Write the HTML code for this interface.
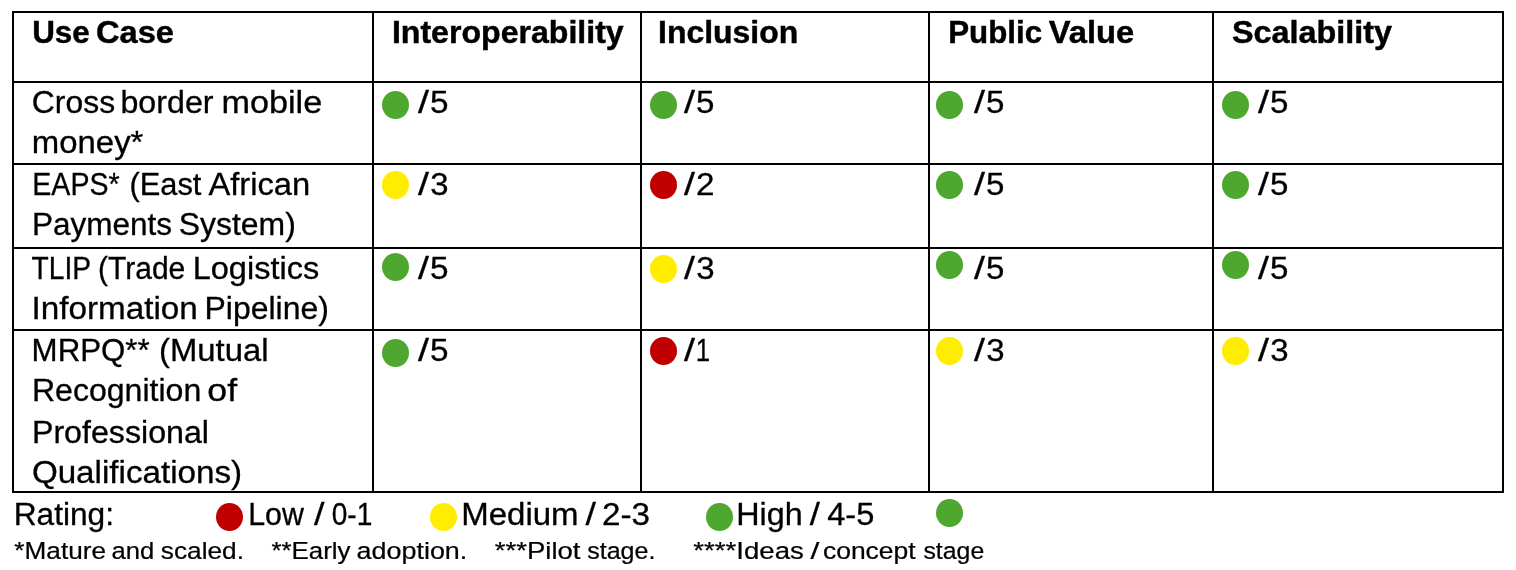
<!DOCTYPE html>
<html lang="en">
<head>
<meta charset="utf-8">
<title>Use case rating table</title>
<style>
html,body{margin:0;padding:0;background:#fff;}
body{width:1504px;height:559px;padding:11px 0 0 12px;position:relative;overflow:hidden;
  font-family:"Liberation Sans",sans-serif;color:#000;}
table{border-collapse:separate;border-spacing:0;
  table-layout:fixed;border-top:2px solid #000;border-left:2px solid #000;}
td,th{box-sizing:border-box;padding:0;border-right:2px solid #000;border-bottom:2px solid #000;
  font-weight:normal;text-align:left;vertical-align:top;}
.t{position:absolute;white-space:pre;line-height:1;font-size:31px;transform-origin:0 0;display:block;-webkit-text-stroke:0.3px #000;}
.b{font-weight:bold;font-size:31.3px;-webkit-text-stroke-width:0.45px;}
.f{font-size:23.25px;-webkit-text-stroke-width:0.22px;}
.d{position:absolute;display:block;border-radius:50%;}
p{margin:0;}
</style>
</head>
<body>
<table>
<colgroup><col style="width:360px"><col style="width:268px"><col style="width:288px"><col style="width:284px"><col style="width:290px"></colgroup>

<tr style="height:70px">
<th><span class="t b" style="left:32px;top:17px;transform:translateX(0.14px) scaleX(1.0032)">Use </span><span class="t b" style="left:95px;top:17px;transform:translateX(0.96px) scaleX(1.0419)">Case</span></th>
<th><span class="t b" style="left:391px;top:17px;transform:translateX(0.90px) scaleX(1.0254)">Interoperability</span></th>
<th><span class="t b" style="left:658px;top:17px;transform:translateX(0.04px) scaleX(1.0200)">Inclusion</span></th>
<th><span class="t b" style="left:948px;top:17px;transform:translateX(0.17px) scaleX(0.9995)">Public </span><span class="t b" style="left:1048px;top:17px;transform:translateX(0.81px) scaleX(1.0445)">Value</span></th>
<th><span class="t b" style="left:1232px;top:17px;transform:translateX(0.02px) scaleX(1.0330)">Scalability</span></th>
</tr>
<tr style="height:82px">
<td><span class="t" style="left:31px;top:87px;transform:translateX(0.84px) scaleX(1.0286)">Cross </span><span class="t" style="left:120px;top:87px;transform:translateX(0.48px) scaleX(1.0379)">border </span><span class="t" style="left:221px;top:87px;transform:translateX(0.45px) scaleX(1.1030)">mobile</span><span class="t" style="left:31px;top:127px;transform:translateX(0.82px) scaleX(1.0618)">money*</span></td>
<td><i class="d" style="left:382px;top:91px;width:27px;height:28px;background:#4ea72e"></i><span class="t" style="left:418px;top:87px;transform:translateX(0.05px) scaleX(1.2729)">/</span><span class="t" style="left:429px;top:87px;transform:translateX(0.90px) scaleX(1.0740)">5</span></td>
<td><i class="d" style="left:650px;top:91px;width:27px;height:28px;background:#4ea72e"></i><span class="t" style="left:684px;top:87px;transform:translateX(0.10px) scaleX(1.2715)">/</span><span class="t" style="left:696px;top:87px;transform:translateX(0.02px) scaleX(1.0688)">5</span></td>
<td><i class="d" style="left:936px;top:91px;width:27px;height:28px;background:#4ea72e"></i><span class="t" style="left:974px;top:87px;transform:translateX(0.10px) scaleX(1.2715)">/</span><span class="t" style="left:986px;top:87px;transform:translateX(0.02px) scaleX(1.0688)">5</span></td>
<td><i class="d" style="left:1222px;top:91px;width:27px;height:28px;background:#4ea72e"></i><span class="t" style="left:1258px;top:87px;transform:translateX(0.10px) scaleX(1.2715)">/</span><span class="t" style="left:1270px;top:87px;transform:translateX(0.02px) scaleX(1.0688)">5</span></td>
</tr>
<tr style="height:84px">
<td><span class="t" style="left:32px;top:169px;transform:translateX(0.31px) scaleX(0.9212)">EAPS* </span><span class="t" style="left:129px;top:169px;transform:translateX(0.43px) scaleX(0.9950)">(East </span><span class="t" style="left:208px;top:169px;transform:translateX(0.42px) scaleX(1.0550)">African</span><span class="t" style="left:31px;top:209px;transform:translateX(0.97px) scaleX(1.0164)">Payments </span><span class="t" style="left:178px;top:209px;transform:translateX(0.74px) scaleX(1.0295)">System)</span></td>
<td><i class="d" style="left:382px;top:171px;width:27px;height:28px;background:#ffed00"></i><span class="t" style="left:418px;top:169px;transform:translateX(0.05px) scaleX(1.2729)">/</span><span class="t" style="left:430px;top:169px;transform:translateX(0.18px) scaleX(1.0608)">3</span></td>
<td><i class="d" style="left:650px;top:171px;width:27px;height:28px;background:#c00000"></i><span class="t" style="left:684px;top:169px;transform:translateX(0.10px) scaleX(1.2715)">/</span><span class="t" style="left:696px;top:169px;transform:translateX(0.01px) scaleX(1.0720)">2</span></td>
<td><i class="d" style="left:936px;top:171px;width:27px;height:28px;background:#4ea72e"></i><span class="t" style="left:974px;top:169px;transform:translateX(0.10px) scaleX(1.2715)">/</span><span class="t" style="left:986px;top:169px;transform:translateX(0.02px) scaleX(1.0688)">5</span></td>
<td><i class="d" style="left:1222px;top:171px;width:27px;height:28px;background:#4ea72e"></i><span class="t" style="left:1258px;top:169px;transform:translateX(0.10px) scaleX(1.2715)">/</span><span class="t" style="left:1270px;top:169px;transform:translateX(0.02px) scaleX(1.0688)">5</span></td>
</tr>
<tr style="height:82px">
<td><span class="t" style="left:31px;top:253px;transform:translateX(0.62px) scaleX(0.9095)">TLIP </span><span class="t" style="left:97px;top:253px;transform:translateX(0.98px) scaleX(0.9684)">(Trade </span><span class="t" style="left:192px;top:253px;transform:translateX(0.69px) scaleX(1.0488)">Logistics</span><span class="t" style="left:31px;top:293px;transform:translateX(0.59px) scaleX(1.0720)">Information </span><span class="t" style="left:204px;top:293px;transform:translateX(0.51px) scaleX(1.0303)">Pipeline)</span></td>
<td><i class="d" style="left:382px;top:253px;width:27px;height:28px;background:#4ea72e"></i><span class="t" style="left:418px;top:253px;transform:translateX(0.05px) scaleX(1.2729)">/</span><span class="t" style="left:429px;top:253px;transform:translateX(0.90px) scaleX(1.0740)">5</span></td>
<td><i class="d" style="left:650px;top:255px;width:27px;height:28px;background:#ffed00"></i><span class="t" style="left:684px;top:253px;transform:translateX(0.10px) scaleX(1.2715)">/</span><span class="t" style="left:696px;top:253px;transform:translateX(0.35px) scaleX(1.0648)">3</span></td>
<td><i class="d" style="left:936px;top:251px;width:27px;height:28px;background:#4ea72e"></i><span class="t" style="left:974px;top:253px;transform:translateX(0.10px) scaleX(1.2715)">/</span><span class="t" style="left:986px;top:253px;transform:translateX(0.02px) scaleX(1.0688)">5</span></td>
<td><i class="d" style="left:1222px;top:251px;width:27px;height:28px;background:#4ea72e"></i><span class="t" style="left:1258px;top:253px;transform:translateX(0.10px) scaleX(1.2715)">/</span><span class="t" style="left:1270px;top:253px;transform:translateX(0.02px) scaleX(1.0688)">5</span></td>
</tr>
<tr style="height:162px">
<td><span class="t" style="left:31px;top:335px;transform:translateX(0.62px) scaleX(1.0077)">MRPQ** </span><span class="t" style="left:159px;top:335px;transform:translateX(0.05px) scaleX(1.0592)">(Mutual</span><span class="t" style="left:31px;top:375px;transform:translateX(0.98px) scaleX(1.0337)">Recognition </span><span class="t" style="left:207px;top:375px;transform:translateX(0.37px) scaleX(1.1514)">of</span><span class="t" style="left:31px;top:417px;transform:translateX(0.94px) scaleX(1.0379)">Professional</span><span class="t" style="left:31px;top:457px;transform:translateX(0.88px) scaleX(1.0699)">Qualifications)</span></td>
<td><i class="d" style="left:382px;top:339px;width:27px;height:28px;background:#4ea72e"></i><span class="t" style="left:418px;top:335px;transform:translateX(0.05px) scaleX(1.2729)">/</span><span class="t" style="left:429px;top:335px;transform:translateX(0.90px) scaleX(1.0740)">5</span></td>
<td><i class="d" style="left:650px;top:337px;width:27px;height:28px;background:#c00000"></i><span class="t" style="left:684px;top:335px;transform:translateX(0.10px) scaleX(1.2715)">/</span><span class="t" style="left:695px;top:335px;transform:translateX(0.70px) scaleX(0.8333)">1</span></td>
<td><i class="d" style="left:936px;top:337px;width:27px;height:28px;background:#ffed00"></i><span class="t" style="left:974px;top:335px;transform:translateX(0.10px) scaleX(1.2715)">/</span><span class="t" style="left:986px;top:335px;transform:translateX(0.35px) scaleX(1.0648)">3</span></td>
<td><i class="d" style="left:1222px;top:337px;width:27px;height:28px;background:#ffed00"></i><span class="t" style="left:1258px;top:335px;transform:translateX(0.10px) scaleX(1.2715)">/</span><span class="t" style="left:1270px;top:335px;transform:translateX(0.35px) scaleX(1.0648)">3</span></td>
</tr>
</table>
<p class="legend">
<span class="t" style="left:13px;top:499px;transform:translateX(0.71px) scaleX(1.0212)">Rating:</span>
<i class="d" style="left:216px;top:503px;width:27px;height:28px;background:#c00000"></i>
<span class="t" style="left:248px;top:499px;transform:translateX(0.25px) scaleX(0.9774)">Low </span><span class="t" style="left:314px;top:499px;transform:translateX(0.02px) scaleX(1.2149)">/ </span><span class="t" style="left:331px;top:499px;transform:translateX(0.69px) scaleX(0.9058)">0-1</span>
<i class="d" style="left:430px;top:503px;width:27px;height:28px;background:#ffed00"></i>
<span class="t" style="left:461px;top:499px;transform:translateX(0.22px) scaleX(1.0643)">Medium </span><span class="t" style="left:585px;top:499px;transform:translateX(0.54px) scaleX(1.2121)">/ </span><span class="t" style="left:601px;top:499px;transform:translateX(0.91px) scaleX(1.0717)">2-3</span>
<i class="d" style="left:706px;top:503px;width:27px;height:28px;background:#4ea72e"></i>
<span class="t" style="left:736px;top:499px;transform:translateX(0.30px) scaleX(1.0416)">High </span><span class="t" style="left:809px;top:499px;transform:translateX(0.69px) scaleX(1.1796)">/ </span><span class="t" style="left:827px;top:499px;transform:translateX(0.17px) scaleX(1.0528)">4-5</span>
<i class="d" style="left:936px;top:499px;width:27px;height:28px;background:#4ea72e"></i>
</p>
<p class="notes">
<span class="t f" style="left:14px;top:540px;transform:translateX(0.37px) scaleX(1.1254)">*Mature </span><span class="t f" style="left:111px;top:540px;transform:translateX(0.54px) scaleX(1.1027)">and </span><span class="t f" style="left:160px;top:540px;transform:translateX(0.79px) scaleX(1.1289)">scaled.</span>
<span class="t f" style="left:271px;top:540px;transform:translateX(0.47px) scaleX(1.1117)">**Early </span><span class="t f" style="left:356px;top:540px;transform:translateX(0.61px) scaleX(1.1569)">adoption.</span>
<span class="t f" style="left:494px;top:540px;transform:translateX(0.81px) scaleX(1.1831)">***Pilot </span><span class="t f" style="left:587px;top:540px;transform:translateX(0.17px) scaleX(1.0770)">stage.</span>
<span class="t f" style="left:693px;top:540px;transform:translateX(0.31px) scaleX(1.1879)">****Ideas </span><span class="t f" style="left:810px;top:540px;transform:translateX(0.46px) scaleX(1.3725)">/ </span><span class="t f" style="left:822px;top:540px;transform:translateX(0.92px) scaleX(1.1390)">concept </span><span class="t f" style="left:923px;top:540px;transform:translateX(0.44px) scaleX(1.0687)">stage</span>
</p>
</body>
</html>
